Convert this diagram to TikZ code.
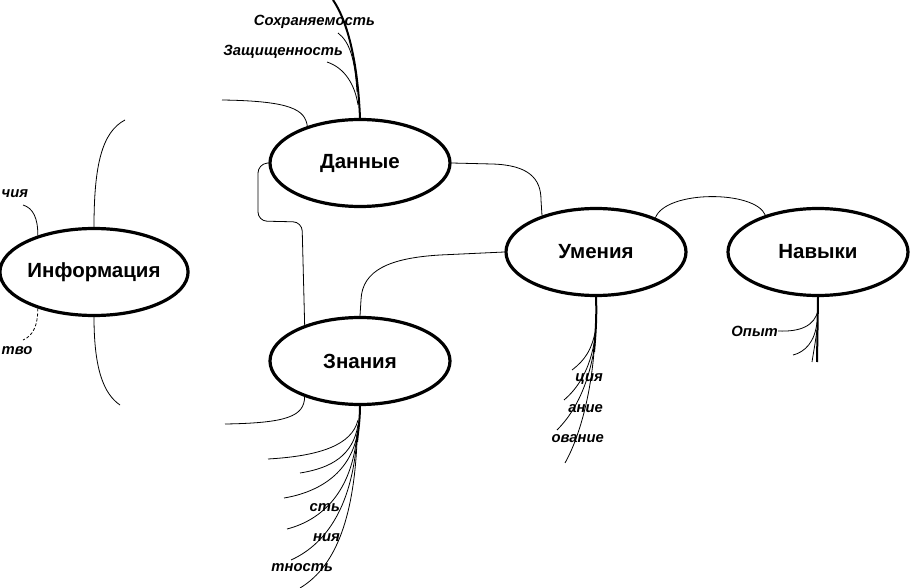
\documentclass[tikz,border=0pt]{standalone}
\usepackage{fontspec}
\setmainfont{Liberation Sans}
\usetikzlibrary{shapes.geometric}
\begin{document}
\begin{tikzpicture}[x=1pt,y=-1pt,
  concept/.style={ellipse,draw,line width=3.2pt,minimum width=180pt,minimum height=87pt,inner sep=0pt,font=\fontsize{20.5}{22}\selectfont\bfseries},
  lbl/.style={inner sep=0pt,font=\fontsize{14.8}{16}\selectfont\bfseries\itshape},
  link/.style={line width=0.8pt},
  trunk/.style={line width=2pt},
  twig/.style={line width=0.8pt}]
\useasboundingbox (0,0) rectangle (913,588);
% concepts
\node[concept] (info)  at (94,272)  {Информация};
\node[concept] (data)  at (360,163) {Данные};
\node[concept] (know)  at (360,361) {Знания};
\node[concept] (skill) at (596,252) {Умения};
\node[concept] (habit) at (818,252) {Навыки};
% labels
\node[lbl,anchor=east] (l1) at (375,22) {Сохраняемость};
\node[lbl,anchor=east] (l2) at (343,52) {Защищенность};
\node[lbl,anchor=west] (l3) at (1.5,194) {чия};
\node[lbl,anchor=west] (l4) at (1.5,351) {тво};
\node[lbl,anchor=east] (l5) at (778,331) {Опыт};
\node[lbl,anchor=east] (l6) at (603,379) {ция};
\node[lbl,anchor=east] (l7) at (603,409) {ание};
\node[lbl,anchor=east] (l8) at (604,439) {ование};
\node[lbl,anchor=east] (l9) at (340,508) {сть};
\node[lbl,anchor=east] (l10) at (340,538) {ния};
\node[lbl,anchor=east] (l11) at (333,568) {тность};
% free ends
\coordinate (e1) at (125,120);
\coordinate (e2) at (120,405);
\coordinate (e3) at (23,205);
\coordinate (e4) at (23,340);
\coordinate (e5) at (222,100);
\coordinate (e6) at (225,424);
\coordinate (top) at (333,0);
\coordinate (dt1) at (357,92);
\coordinate (dt2) at (358,105);
\coordinate (kt) at (357,442);
\coordinate (st) at (594,352);
\coordinate (ht) at (817,362);
% information links
\draw[link] (info.north) .. controls (94,165) and (102,132) .. (e1);
\draw[link] (info.south) .. controls (94,370) and (104,394) .. (e2);
\draw[link] (info.147) .. controls (38,218) and (33,208) .. (e3);
\draw[link,dashed,dash pattern=on 3pt off 2pt] (info.213) .. controls (38,325) and (33,336) .. (e4);
% data links
\draw[link] (data.145) .. controls (305,110) and (292,101) .. (e5);
\draw[link,rounded corners=9pt] (data.west) -- (258,164) -- (258,221) -- (302,222) -- (know.147);
\draw[link] (data.east) -- (492,164) .. controls (528,165) and (541,178) .. (541,200) -- (skill.146);
\draw[trunk] (data.north) .. controls (358,70) and (350,25) .. (top);
\draw[twig] (dt1) .. controls (355,60) and (350,42) .. (338,33);
\draw[twig] (dt2) .. controls (355,85) and (345,68) .. (327,62);
% skill links
\draw[link] (skill.west) -- (440,255) .. controls (390,258) and (362,270) .. (361,300) -- (know.north);
\draw[link] (skill.30) .. controls (666,190) and (755,190) .. (habit.145);
% knowledge links
\draw[link] (know.213) .. controls (304,416) and (288,423) .. (e6);
\draw[trunk] (know.south) .. controls (360,420) and (358,432) .. (kt);
\draw[twig] (358,420) .. controls (352,445) and (320,456) .. (268,459);
\draw[twig] (358,425) .. controls (353,455) and (332,468) .. (300,473);
\draw[twig] (358,430) .. controls (352,472) and (320,492) .. (284,498);
\draw[twig] (357,434) .. controls (352,492) and (322,520) .. (287,529);
\draw[twig] (357,437) .. controls (352,512) and (322,546) .. (291,560);
\draw[twig] (kt) .. controls (353,530) and (330,570) .. (300,588);
% skill bundle
\draw[trunk] (skill.south) .. controls (597,320) and (595,340) .. (st);
\draw[twig] (596,328) .. controls (592,350) and (585,360) .. (572,370);
\draw[twig] (595,338) .. controls (590,370) and (578,388) .. (564,400);
\draw[twig] (595,344) .. controls (588,390) and (572,415) .. (557,430);
\draw[twig] (st) .. controls (590,400) and (578,440) .. (565,463);
% habit bundle
\draw[trunk] (habit.south) -- (ht);
\draw[twig] (818,310) .. controls (815,326) and (800,332) .. (l5.east);
\draw[twig] (817,322) .. controls (815,342) and (805,352) .. (793,355);
\draw[twig] (817,330) .. controls (815,345) and (813,355) .. (812,362);
\end{tikzpicture}
\end{document}
